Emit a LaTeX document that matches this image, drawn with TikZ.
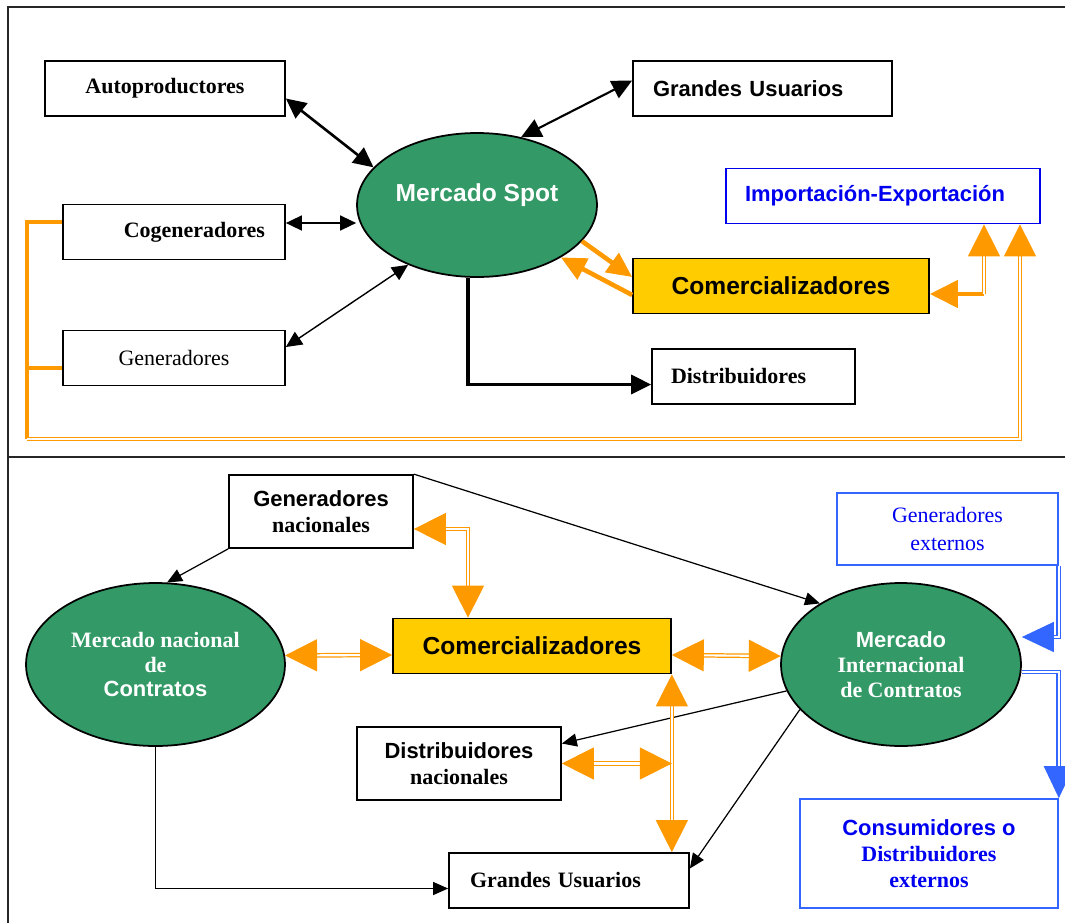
\documentclass[tikz,border=0pt]{standalone}
\usepackage{fontspec}
\setmainfont{Liberation Serif}
\setsansfont{Liberation Sans}
\usetikzlibrary{arrows.meta,calc,shapes.geometric}
\definecolor{spotgreen}{RGB}{51,153,102}
\definecolor{tradeyellow}{RGB}{255,204,0}
\definecolor{flowora}{RGB}{255,153,0}
\definecolor{extblue}{RGB}{51,102,255}
\definecolor{ieblue}{RGB}{0,0,240}
\tikzset{
  kbig/.tip={Triangle[length=0.4cm,width=0.38cm]},
  ksmall/.tip={Triangle[length=0.32cm,width=0.3cm]},
  kthin/.tip={Triangle[length=0.3cm,width=0.26cm]},
  osmall/.tip={Triangle[length=0.5cm,width=0.46cm]},
  omid/.tip={Triangle[length=0.56cm,width=0.54cm]},
  obig/.tip={Triangle[length=0.64cm,width=0.64cm]},
  bbig/.tip={Triangle[length=0.64cm,width=0.6cm]}
}
\tikzstyle{box}=[rectangle,draw=black,fill=white,line width=1pt,inner sep=0pt,minimum height=1.1cm,align=center,font=\fontsize{12.5}{15}\selectfont\bfseries]
\tikzstyle{market}=[ellipse,draw=black,fill=spotgreen,line width=1pt,inner sep=0pt,text=white,align=center,font=\fontsize{12.5}{14.2}\selectfont\bfseries]
\tikzstyle{trader}=[box,fill=tradeyellow,font=\fontsize{14}{16}\selectfont\sffamily\bfseries]
\tikzstyle{extbox}=[box,draw=extblue,text=ieblue]
\tikzstyle{panelline}=[draw=black!85,line width=0.9pt]
\tikzstyle{kline}=[draw=black,line width=0.7pt]
\tikzstyle{oline}=[draw=flowora,line width=2.6pt]
\tikzstyle{ofeed}=[draw=flowora,line width=2.2pt]
\tikzstyle{oflow}=[draw=flowora,line width=0.7pt,double=white,double distance=1.2pt]
\tikzstyle{bflow}=[draw=extblue,line width=0.8pt,double=white,double distance=1.2pt]

\begin{document}
\begin{tikzpicture}[x=0.02cm,y=-0.02cm]
	\useasboundingbox (0,0) rectangle (1065,923);
	\draw[panelline] (8,923) -- (8,7) -- (1065,7);
	\draw[panelline] (8,457) -- (1065,457);
	
	% mercado spot
	\node[market, minimum width=4.8cm, minimum height=2.88cm, font=\fontsize{14}{16}\selectfont\sffamily\bfseries] (spot) at (477,205) {\raisebox{0.07cm}[0pt][0pt]{Mercado Spot}};
	
	\node[box, minimum width=4.8cm] (auto) at (165,88.5) {Autoproductores};
	\node[box, minimum width=4.44cm, text width=3.64cm, inner xsep=0.4cm, align=right] (cog) at (174,232) {Cogeneradores};
	\node[box, minimum width=4.44cm, font=\fontsize{12.5}{15}\selectfont] (gen) at (174,358) {Generadores};
	\node[box, minimum width=5.18cm, text width=4.38cm, inner xsep=0.4cm, align=left, font=\fontsize{12.5}{15}\selectfont\sffamily\bfseries] (gu1) at (762.5,88.5) {Grandes Usuarios};
	\node[box, draw=ieblue, text=ieblue, minimum width=6.28cm, text width=5.52cm, inner xsep=0.38cm, align=left, font=\fontsize{12.5}{15}\selectfont\sffamily\bfseries] (ie) at (883,196) {Importación-Exportación};
	\node[trader, minimum width=5.92cm] (com1) at (781,286) {Comercializadores};
	\node[box, minimum width=4.06cm, text width=3.3cm, inner xsep=0.38cm, align=left] (dist1) at (753.5,376.5) {Distribuidores};
	
	\draw[kline, line width=1.5pt, kbig-kbig] ($(auto.east)+(0,10)$) -- (spot.160);
	\draw[kline, line width=0.9pt, ksmall-ksmall] ($(cog.east)+(0,-9)$) -- ($(cog.east -| spot.west)+(0,-9)$);
	\draw[kline, line width=0.8pt, ksmall-ksmall] ($(gen.east)+(0,-11)$) -- (spot.221);
	\draw[kline, line width=1.2pt, kbig-kbig] ($(gu1.west)+(0,-8)$) -- (spot.57);
	\draw[kline, line width=1.8pt, -kbig] ($(spot.south)+(-9,0)$) |- ($(dist1.west)+(0,8)$);
	
	\draw[oline, -osmall] (spot.-19) -- ($(com1.west)+(0,-9)$);
	\draw[oline, -osmall] ($(com1.west)+(0,9)$) -- (spot.-32);
	\coordinate (iecorner) at (984,294);
	\draw[oline, -omid] (iecorner) -- ($(com1.east)+(0,8)$);
	\draw[oflow, -obig] (iecorner) -- (iecorner |- ie.south);
	
	\coordinate (feed) at (27,439);
	\draw[ofeed] ($(cog.west)+(0,-10)$) -| (feed);
	\draw[ofeed] ($(gen.west)+(0,10)$) -| (feed);
	\draw[oflow, -obig] (feed) -| ($(ie.south)+(137,0)$);
	
	% contratos
	\node[market, minimum width=5.18cm, minimum height=3.26cm] (mnc) at (155.5,664.5) {Mercado nacional\\de\\{\sffamily Contratos}};
	\node[market, minimum width=4.8cm, minimum height=3.26cm] (mii) at (901,664.5) {{\sffamily Mercado}\\Internacional\\de Contratos};
	
	\node[box, minimum width=3.68cm, minimum height=1.46cm] (gnac) at (321,511.5) {{\sffamily Generadores}\\nacionales};
	\node[trader, minimum width=5.56cm] (com2) at (532,646) {Comercializadores};
	\node[box, minimum width=4.08cm, minimum height=1.46cm] (dnac) at (459,763.5) {{\sffamily Distribuidores}\\nacionales};
	\node[box, minimum width=4.8cm, text width=3.96cm, inner xsep=0.42cm, align=left] (gu2) at (569,880.5) {Grandes Usuarios};
	\node[extbox, minimum width=4.42cm, minimum height=1.44cm, font=\fontsize{12.5}{15.5}\selectfont] (gext) at (947.5,529) {Generadores\\externos};
	\node[extbox, minimum width=5.16cm, minimum height=2.18cm, font=\fontsize{12.5}{15}\selectfont\bfseries] (cons) at (929,853.5) {{\sffamily Consumidores o}\\Distribuidores\\externos};
	
	\draw[kline, -kthin] (gnac.south west) -- (mnc.82);
	\draw[kline, -kthin] (gnac.north east) -- (mii.143);
	\draw[kline, -kthin] (mii.193) -- ($(dnac.east)+(0,-20)$);
	\draw[kline, -kthin] (mii.204) -- ($(gu2.east)+(0,-12)$);
	\draw[kline, -kthin] (mnc.south) |- ($(gu2.west)+(0,8)$);
	
	\draw[oflow, obig-obig] (mnc.4) -- ($(com2.west)+(0,9)$);
	\draw[oflow, obig-obig] ($(gnac.east)+(0,17.5)$) -| ($(com2.north)+(-64,0)$);
	\draw[oflow, obig-obig] ($(com2.east)+(0,9)$) -- (mii.176);
	\draw[oflow, obig-obig] (com2.south east) -- (com2.south east |- gu2.north);
	\draw[oflow, obig-obig] (dnac.east) -- (dnac.east -| com2.south east);
	
	\draw[bflow, -bbig] (gext.south east) |- ($(mii.east)+(0,-27.5)$);
	\draw[bflow, -bbig] ($(mii.east)+(0,7.5)$) -| (cons.north east);
\end{tikzpicture}
\end{document}
